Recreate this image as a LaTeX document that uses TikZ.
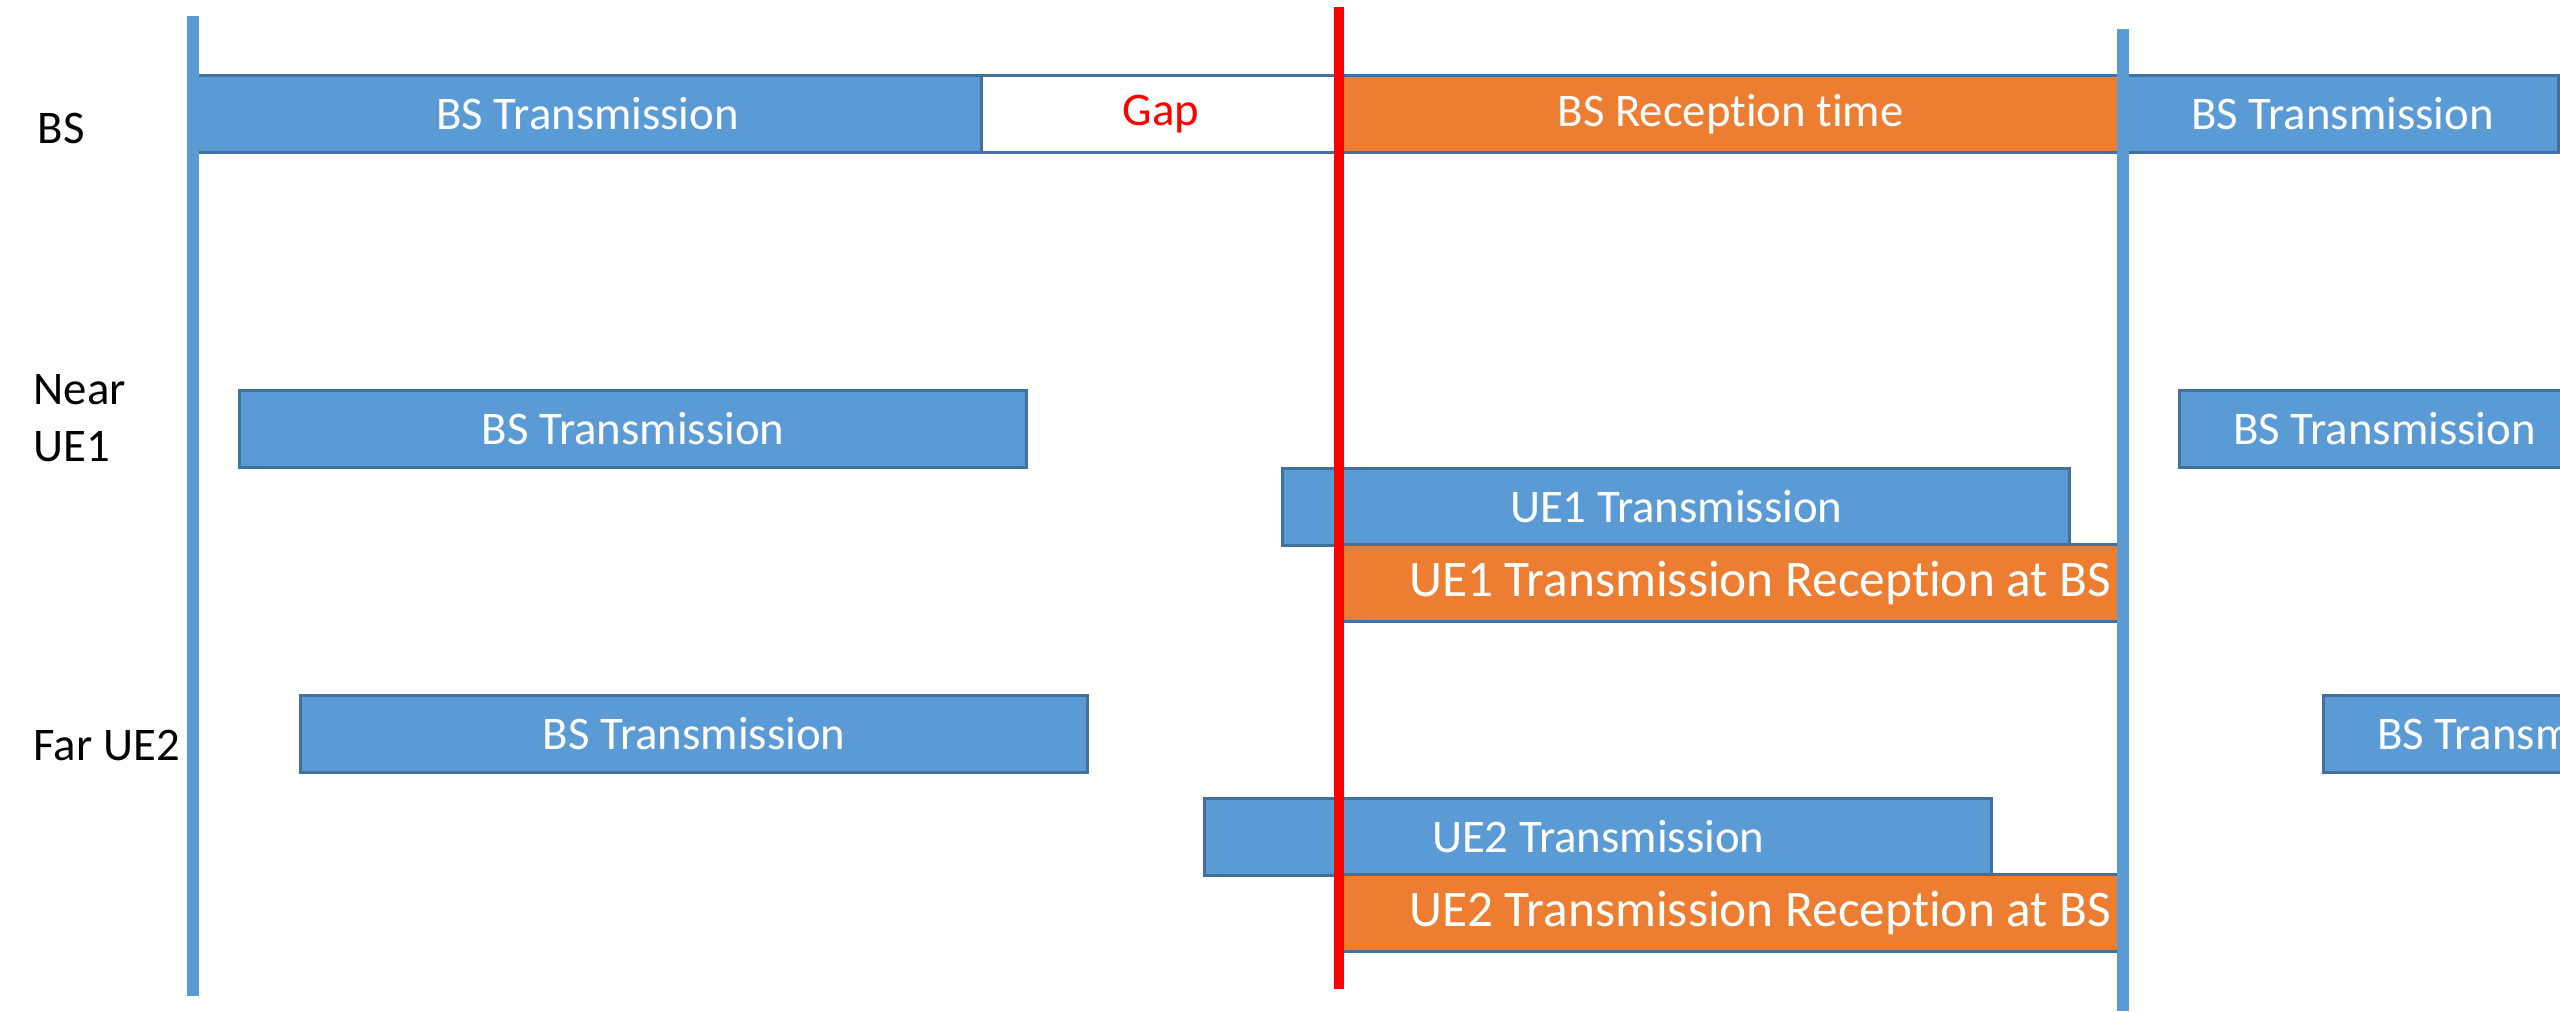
\documentclass[tikz,border=0pt]{standalone}
\usepackage{fontspec}
\setmainfont{Carlito}[Ligatures=NoCommon]
\usetikzlibrary{positioning}
\definecolor{txblue}{HTML}{5B9BD5}
\definecolor{rxorange}{HTML}{ED7D31}
\definecolor{baredge}{HTML}{41719C}
\definecolor{guardred}{HTML}{FF0000}
\newcommand{\barfont}{\fontsize{13.3}{16.2}\selectfont}
\newcommand{\rxfont}{\fontsize{14.6}{17}\selectfont}
\tikzset{
  bar/.style={rectangle,draw=baredge,line width=0.8pt,anchor=north west,minimum height=7.7mm,
              inner sep=0,text=white,font=\barfont},
  txbar/.style={bar,fill=txblue},
  rxbar/.style={bar,fill=rxorange},
  gapbar/.style={bar,fill=white,text=guardred},
  bartext/.style={inner sep=0,text=white,font=\rxfont},
  rowlab/.style={anchor=west,inner sep=0,align=left,font=\barfont},
  % slot boundaries of the frame and the switching point
  frameline/.style={draw=txblue,line width=3.3pt},
  switchline/.style={draw=guardred,line width=2.9pt},
}

\begin{document}
\begin{tikzpicture}[x=0.01cm,y=-0.01cm]
  \useasboundingbox (0,0) rectangle (2560,1011);
  \clip (0,0) rectangle (2560,1011);

  % row labels
  \node[rowlab] (bsLab) at (37,128) {BS};
  \node[rowlab] (nearLab) at (33,418) {Near\\UE1};
  \node[rowlab] (farLab) at (33,745) {Far UE2};

  % base station timeline
  \node[txbar,minimum width=78.8mm] (bsTx) at (192,74) {BS Transmission};
  \node[gapbar,minimum width=35.9mm] (bsGap) at (980,74) {Gap};
  \node[rxbar,minimum width=78.0mm] (bsRx) at (1339,74) {BS Reception time};
  \node[txbar,minimum width=43.2mm] (bsTxNext) at (2125,74) {BS Transmission};

  % near UE1: downlink delayed a little, uplink sent early by the timing advance
  \node[txbar,minimum width=78.7mm] (nearBsTx) at (238,389) {BS Transmission};
  \node[txbar,minimum width=41.0mm] (nearBsTxNext) at (2178,389) {BS Transmission};
  \node[txbar,minimum width=78.7mm] (ueOneTx) at (1281,467) {UE1 Transmission};
  \node[rxbar,minimum width=78.3mm] (ueOneRx) at (1339,543) {};
  \node[bartext] (ueOneRxText) at ([xshift=2.8mm]ueOneRx.center) {UE1 Transmission Reception at BS};

  % far UE2: larger delay, larger advance
  \node[txbar,minimum width=78.7mm] (farBsTx) at (299,694) {BS Transmission};
  \node[txbar,minimum width=41.0mm] (farBsTxNext) at (2322,694) {BS Transmission};
  \node[txbar,minimum width=78.7mm] (ueTwoTx) at (1203,797) {UE2 Transmission};
  \node[rxbar,minimum width=78.3mm] (ueTwoRx) at (1339,873) {};
  \node[bartext] (ueTwoRxText) at ([xshift=2.8mm]ueTwoRx.center) {UE2 Transmission Reception at BS};

  % vertical markers
  \coordinate (frameStartTop) at (193,16);
  \coordinate (frameStartBot) at (193,996);
  \coordinate (frameEndTop) at (2123,29);
  \coordinate (frameEndBot) at (2123,1011);
  \coordinate (switchTop) at (1339,7);
  \coordinate (switchBot) at (1339,989);
  \draw[frameline] (frameStartTop) -- (frameStartBot);
  \draw[frameline] (frameEndTop) -- (frameEndBot);
  \draw[switchline] (switchTop) -- (switchBot);
\end{tikzpicture}
\end{document}
